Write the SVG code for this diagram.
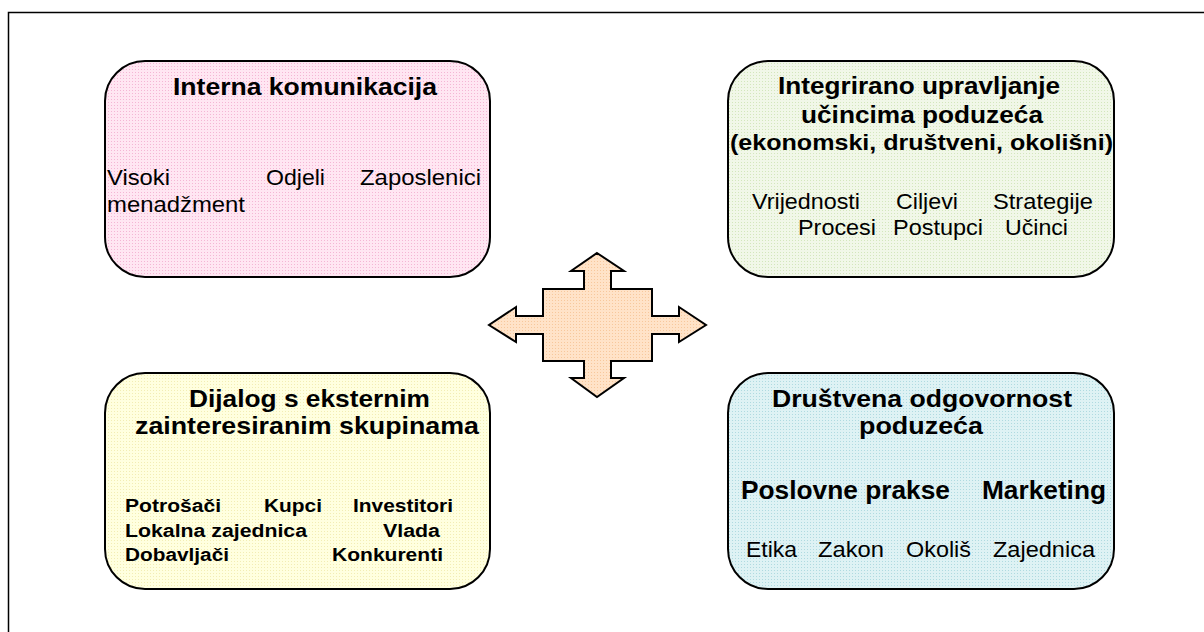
<svg xmlns="http://www.w3.org/2000/svg" width="1204" height="632" viewBox="0 0 1204 632">
  <defs>
    <pattern id="pPink" width="3" height="3" patternUnits="userSpaceOnUse">
      <rect width="3" height="3" fill="#FFE6F2"/><rect width="1" height="1" fill="#F4B6D4"/>
    </pattern>
    <pattern id="pGreen" width="3" height="3" patternUnits="userSpaceOnUse">
      <rect width="3" height="3" fill="#F1F7E8"/><rect width="1" height="1" fill="#D3E6BC"/>
    </pattern>
    <pattern id="pYellow" width="3" height="3" patternUnits="userSpaceOnUse">
      <rect width="3" height="3" fill="#FFFFDF"/><rect width="1" height="1" fill="#F2EDB4"/>
    </pattern>
    <pattern id="pBlue" width="3" height="3" patternUnits="userSpaceOnUse">
      <rect width="3" height="3" fill="#DEF2F4"/><rect width="1" height="1" fill="#AFDAE0"/>
    </pattern>
    <pattern id="pPeach" width="3" height="3" patternUnits="userSpaceOnUse">
      <rect width="3" height="3" fill="#FFE3C8"/><rect width="1" height="1" fill="#F7C89C"/>
    </pattern>
  </defs>
  <style>
    .box { stroke: #000; stroke-width: 2; }
    .t { font-family: "Liberation Sans", Arial, sans-serif; fill: #000; }
    .title { font-weight: bold; font-size: 24.5px; }
    .item { font-size: 21.5px; }
    .bitem { font-weight: bold; font-size: 18px; }
    .big { font-weight: bold; font-size: 25.5px; }
  </style>
  <rect width="1204" height="632" fill="#FFFFFF"/>
  <path d="M8.5,632 V12.5 H1204" fill="none" stroke="#000" stroke-width="1.5"/>

  <g id="connectors">
    <polygon fill="url(#pPeach)" stroke="#000" stroke-width="2" stroke-linejoin="miter" points="597,253 624,271 611,271 611,289 652,289 652,316 679,316 679,307 706,325 679,342 679,334 652,334 652,361 611,361 611,378 624,378 597,397 571,378 584,378 584,361 543,361 543,334 516,334 516,342 489,325 516,307 516,316 543,316 543,289 584,289 584,271 571,271"/>
  </g>

  <g id="interna">
    <rect class="box" x="105" y="61" width="385" height="216" rx="40" ry="40" fill="url(#pPink)"/>
    <text class="t title" x="173" y="95" textLength="264" lengthAdjust="spacingAndGlyphs">Interna komunikacija</text>
    <text class="t item" x="107" y="185" textLength="63" lengthAdjust="spacingAndGlyphs">Visoki</text>
    <text class="t item" x="266" y="185" textLength="59" lengthAdjust="spacingAndGlyphs">Odjeli</text>
    <text class="t item" x="360" y="185" textLength="121" lengthAdjust="spacingAndGlyphs">Zaposlenici</text>
    <text class="t item" x="107" y="212" textLength="138" lengthAdjust="spacingAndGlyphs">menadžment</text>
  </g>

  <g id="integrirano">
    <rect class="box" x="728" y="61" width="386" height="216" rx="40" ry="40" fill="url(#pGreen)"/>
    <text class="t title" x="778" y="94" textLength="282" lengthAdjust="spacingAndGlyphs">Integrirano upravljanje</text>
    <text class="t title" x="801" y="122.5" textLength="242" lengthAdjust="spacingAndGlyphs">učincima poduzeća</text>
    <text class="t title" x="730" y="150" style="font-size:22.5px" textLength="383" lengthAdjust="spacingAndGlyphs">(ekonomski, društveni, okolišni)</text>
    <text class="t item" x="752" y="208.5" textLength="108" lengthAdjust="spacingAndGlyphs">Vrijednosti</text>
    <text class="t item" x="896" y="208.5" textLength="62" lengthAdjust="spacingAndGlyphs">Ciljevi</text>
    <text class="t item" x="993" y="208.5" textLength="100" lengthAdjust="spacingAndGlyphs">Strategije</text>
    <text class="t item" x="798" y="235" textLength="78" lengthAdjust="spacingAndGlyphs">Procesi</text>
    <text class="t item" x="893" y="235" textLength="90" lengthAdjust="spacingAndGlyphs">Postupci</text>
    <text class="t item" x="1005" y="235" textLength="63" lengthAdjust="spacingAndGlyphs">Učinci</text>
  </g>

  <g id="dijalog">
    <rect class="box" x="105" y="373" width="385" height="216" rx="40" ry="40" fill="url(#pYellow)"/>
    <text class="t title" x="189" y="407" textLength="241" lengthAdjust="spacingAndGlyphs">Dijalog s eksternim</text>
    <text class="t title" x="135" y="433.5" textLength="344" lengthAdjust="spacingAndGlyphs">zainteresiranim skupinama</text>
    <text class="t bitem" x="125" y="512" textLength="96" lengthAdjust="spacingAndGlyphs">Potrošači</text>
    <text class="t bitem" x="264" y="512" textLength="58" lengthAdjust="spacingAndGlyphs">Kupci</text>
    <text class="t bitem" x="353" y="512" textLength="100" lengthAdjust="spacingAndGlyphs">Investitori</text>
    <text class="t bitem" x="125" y="536.5" textLength="182" lengthAdjust="spacingAndGlyphs">Lokalna zajednica</text>
    <text class="t bitem" x="383" y="536.5" textLength="57" lengthAdjust="spacingAndGlyphs">Vlada</text>
    <text class="t bitem" x="125" y="561" textLength="104" lengthAdjust="spacingAndGlyphs">Dobavljači</text>
    <text class="t bitem" x="332" y="561" textLength="111" lengthAdjust="spacingAndGlyphs">Konkurenti</text>
  </g>

  <g id="drustvena">
    <rect class="box" x="728" y="373" width="386" height="216" rx="40" ry="40" fill="url(#pBlue)"/>
    <text class="t title" x="772" y="407" textLength="300" lengthAdjust="spacingAndGlyphs">Društvena odgovornost</text>
    <text class="t title" x="859" y="433.5" textLength="124" lengthAdjust="spacingAndGlyphs">poduzeća</text>
    <text class="t big" x="741" y="499" textLength="209" lengthAdjust="spacingAndGlyphs">Poslovne prakse</text>
    <text class="t big" x="982" y="499" textLength="124" lengthAdjust="spacingAndGlyphs">Marketing</text>
    <text class="t item" x="746" y="557" textLength="51" lengthAdjust="spacingAndGlyphs">Etika</text>
    <text class="t item" x="818" y="557" textLength="66" lengthAdjust="spacingAndGlyphs">Zakon</text>
    <text class="t item" x="906" y="557" textLength="65" lengthAdjust="spacingAndGlyphs">Okoliš</text>
    <text class="t item" x="993" y="557" textLength="102" lengthAdjust="spacingAndGlyphs">Zajednica</text>
  </g>
</svg>
